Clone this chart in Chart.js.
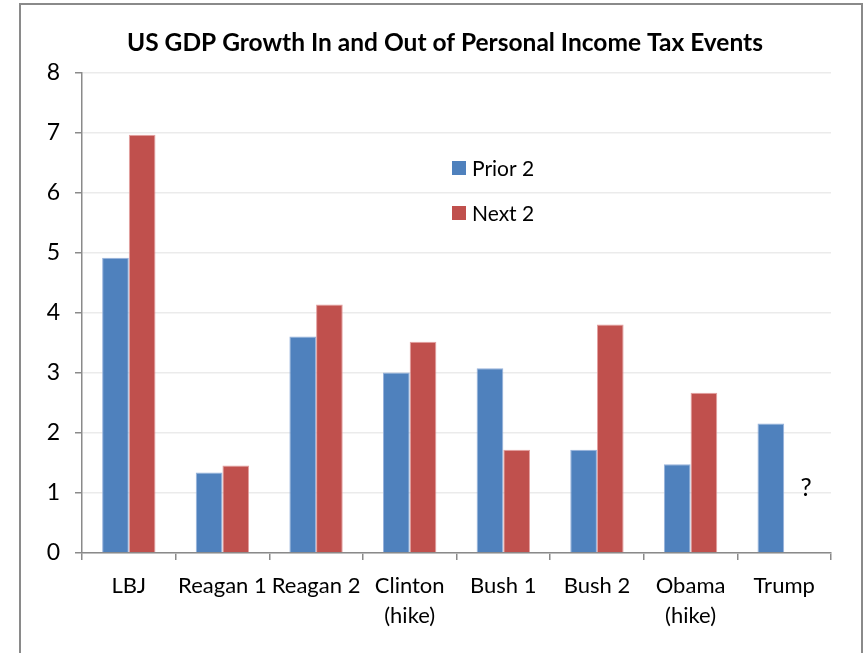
<!DOCTYPE html>
<html>
<head>
<meta charset="utf-8">
<script src="https://cdn.jsdelivr.net/npm/chart.js@4/dist/chart.umd.min.js"></script>
<style>
html,body{margin:0;padding:0;background:#fff;}
canvas{display:block;}
</style>
</head>
<body>
<canvas id="c" width="868" height="653"></canvas>
<script>
const categories = ['LBJ', 'Reagan 1', 'Reagan 2', ['Clinton', '(hike)'], 'Bush 1', 'Bush 2', ['Obama', '(hike)'], 'Trump'];
const prior2 = [4.92, 1.34, 3.61, 3.01, 3.08, 1.72, 1.48, 2.16];
const next2 = [6.97, 1.46, 4.14, 3.52, 1.72, 3.81, 2.67, null];
const yTicks = [0, 1, 2, 3, 4, 5, 6, 7, 8];
const seriesNames = ['Prior 2', 'Next 2'];
const colors = ['#4F81BD', '#C0504D'];
const titleText = 'US GDP Growth In and Out of Personal Income Tax Events';
const unknownMark = '?';

const FONT = 'Lato, "Open Sans", sans-serif';

const framePlugin = {
  id: 'frame',
  beforeDraw(chart) {
    const ctx = chart.ctx;
    ctx.save();
    ctx.fillStyle = '#fff';
    ctx.fillRect(0, 0, chart.width, chart.height);
    ctx.strokeStyle = '#8a8a8a';
    ctx.lineWidth = 2;
    ctx.strokeRect(20, 4, 842, chart.height + 20);
    ctx.restore();
  }
};

const insideLegend = {
  id: 'insideLegend',
  afterDraw(chart) {
    const ctx = chart.ctx;
    const ca = chart.chartArea;
    ctx.save();
    ctx.font = '21px ' + FONT;
    ctx.textBaseline = 'middle';
    ctx.textAlign = 'left';
    const x0 = ca.left + 370;
    const y0 = ca.top + 95;
    seriesNames.forEach((name, i) => {
      const y = y0 + i * 45;
      ctx.fillStyle = colors[i];
      ctx.fillRect(x0, y - 7, 14, 14);
      ctx.fillStyle = '#000';
      ctx.fillText(name, x0 + 20, y + 1);
    });
    ctx.restore();
  }
};

const questionMark = {
  id: 'questionMark',
  afterDatasetsDraw(chart) {
    const xs = chart.scales.x, ys = chart.scales.y;
    const ctx = chart.ctx;
    ctx.save();
    ctx.font = '25px ' + FONT;
    ctx.fillStyle = '#000';
    ctx.textAlign = 'center';
    ctx.textBaseline = 'middle';
    ctx.fillText(unknownMark, xs.getPixelForValue(categories.length - 1) + 22, ys.getPixelForValue(1.08));
    ctx.restore();
  }
};

new Chart(document.getElementById('c'), {
  type: 'bar',
  data: {
    labels: categories,
    datasets: [
      { label: seriesNames[0], data: prior2, backgroundColor: colors[0], borderColor: 'rgba(140,170,215,0.9)', borderWidth: 1, categoryPercentage: 0.57, barPercentage: 1.0, yAxisID: 'y' },
      { label: seriesNames[1], data: next2, backgroundColor: colors[1], borderColor: 'rgba(225,150,150,0.9)', borderWidth: 1, categoryPercentage: 0.57, barPercentage: 1.0, yAxisID: 'y' }
    ]
  },
  options: {
    responsive: false,
    animation: false,
    devicePixelRatio: 1,
    layout: { padding: { left: 28, right: 6, top: 4, bottom: 0 } },
    plugins: {
      legend: { display: false },
      tooltip: { enabled: false },
      title: {
        display: true,
        text: titleText,
        color: '#000',
        font: { family: FONT, size: 24.5, weight: 'bold', lineHeight: 1.2 },
        padding: { top: 24, bottom: 15.6 }
      }
    },
    scales: {
      x: {
        grid: { offset: true, drawOnChartArea: false, drawTicks: true, tickLength: 7, color: '#8a8a8a', lineWidth: 1.5 },
        border: { display: true, color: '#8a8a8a', width: 1.5 },
        ticks: { color: '#000', font: { family: FONT, size: 22, lineHeight: 1.36 }, padding: 11, maxRotation: 0, autoSkip: false },
        afterFit(s) { s.height = 100; }
      },
      y: {
        min: 0, max: 8,
        afterBuildTicks(s) { s.ticks = yTicks.map(v => ({ value: v })); },
        grid: { color: '#ebebeb', lineWidth: 1.5, tickColor: '#8a8a8a', tickLength: 7, drawTicks: true },
        border: { display: true, color: '#8a8a8a', width: 1.5 },
        ticks: { color: '#000', font: { family: FONT, size: 23 }, padding: 15 },
        afterFit(s) { s.width = 54; }
      },
      y2: {
        position: 'right',
        display: true,
        grid: { display: false, drawTicks: false },
        border: { display: false },
        ticks: { display: false },
        afterFit(s) { s.width = 31; }
      }
    }
  },
  plugins: [framePlugin, insideLegend, questionMark]
});
</script>
</body>
</html>
